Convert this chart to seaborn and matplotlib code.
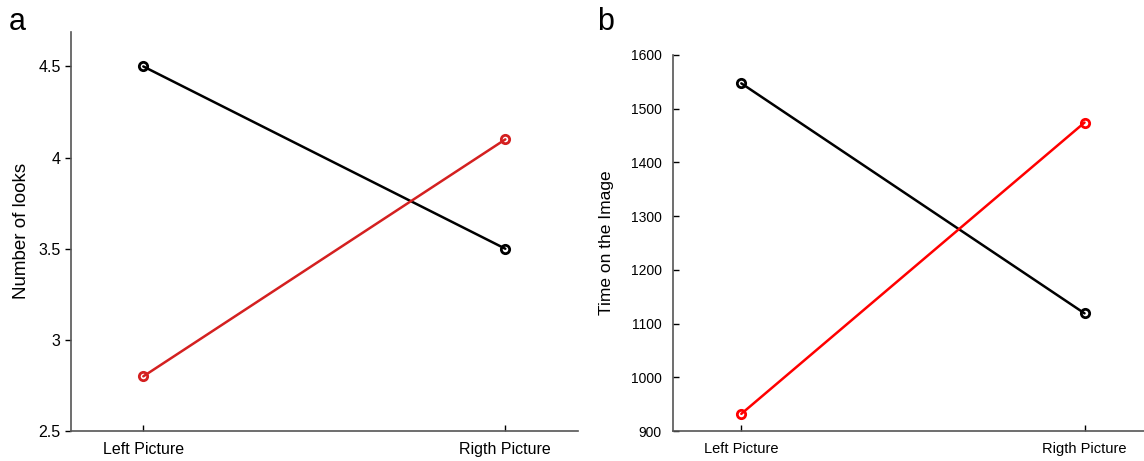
import matplotlib
matplotlib.use("Agg")
import matplotlib.pyplot as plt
import seaborn as sns
import pandas as pd

# datos
posiciones = ["Left Picture", "Rigth Picture"]
miradas_negro = [4.5, 3.5]
miradas_rojo = [2.8, 4.1]
tiempo_negro = [1547, 1119]
tiempo_rojo = [932, 1474]

sns.set_style("white")
plt.rcParams["font.family"] = ["Liberation Sans", "DejaVu Sans"]
plt.rcParams["text.color"] = "black"
plt.rcParams["axes.labelcolor"] = "black"
plt.rcParams["xtick.color"] = "black"
plt.rcParams["ytick.color"] = "black"

fig = plt.figure(figsize=(11.44, 4.61), dpi=100)
ax1 = fig.add_axes([0.062, 0.065, 0.443, 0.866])
ax2 = fig.add_axes([0.588, 0.065, 0.42, 0.816])


def panel(ax, negro, rojo, color_rojo, ylabel, ylim, yticks, fs_tick, fs_label, pad):
    df = pd.DataFrame({
        "x": [0, 1, 0, 1],
        "y": negro + rojo,
        "serie": ["negro", "negro", "rojo", "rojo"],
    })
    sns.lineplot(data=df, x="x", y="y", hue="serie",
                 palette={"negro": "black", "rojo": color_rojo},
                 marker="o", markersize=6, markerfacecolor="none",
                 markeredgewidth=2, linewidth=1.8, legend=False, ax=ax)
    for line in ax.get_lines():
        line.set_markeredgecolor(line.get_color())
    ax.set_xlim(-0.2, 1.2)
    ax.set_ylim(*ylim)
    ax.set_xticks([0, 1])
    ax.set_xticklabels(posiciones, fontsize=fs_tick)
    ax.set_yticks(yticks)
    ax.set_xlabel("")
    ax.set_ylabel(ylabel, fontsize=fs_label, labelpad=pad)
    for lado in ["top", "right"]:
        ax.spines[lado].set_visible(False)
    for lado in ["left", "bottom"]:
        ax.spines[lado].set_color("#555555")
        ax.spines[lado].set_linewidth(1.2)


panel(ax1, miradas_negro, miradas_rojo, "#d42020", "Number of looks",
      (2.5, 4.69), [2.5, 3, 3.5, 4, 4.5], 11.5, 13.5, 6)
ax1.set_yticklabels(["2.5", "3", "3.5", "4", "4.5"], fontsize=11.5)
ax1.tick_params(axis="y", direction="out", length=4, width=1, left=True)
ax1.tick_params(axis="x", direction="in", length=4, width=1, bottom=True, pad=8)

panel(ax2, tiempo_negro, tiempo_rojo, "red", "Time on the Image",
      (900, 1600), list(range(900, 1601, 100)), 10.5, 12.5, 12)
ax2.tick_params(axis="both", direction="in", length=4, width=1, left=True, bottom=True)
ax2.tick_params(axis="y", pad=8)
ax2.tick_params(axis="x", pad=8)

fig.text(0.008, 0.935, "a", fontsize=22)
fig.text(0.522, 0.935, "b", fontsize=22)

fig.savefig("out.png", dpi=100)
